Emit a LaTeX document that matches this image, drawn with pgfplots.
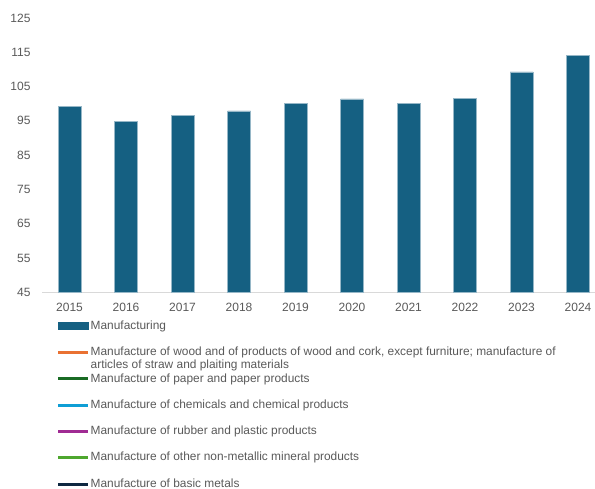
\documentclass[border=0pt]{standalone}
\usepackage{pgfplots}
\pgfplotsset{compat=1.18}
\usepackage{fontspec}
\setmainfont{Liberation Sans}

\definecolor{barblue}{HTML}{156082}
\definecolor{woodorange}{HTML}{E97132}
\definecolor{papergreen}{HTML}{196B24}
\definecolor{chemblue}{HTML}{0F9ED5}
\definecolor{rubberpurple}{HTML}{A02B93}
\definecolor{mineralgreen}{HTML}{4EA72E}
\definecolor{metalnavy}{HTML}{0E2841}
\definecolor{txtgray}{HTML}{595959}
\definecolor{axgray}{HTML}{D9D9D9}

\begin{document}
\begin{tikzpicture}
\begin{axis}[
    name=main,
    scale only axis,
    width=553bp, height=274.3bp,
    xmin=-0.487, xmax=9.3,
    ymin=45, ymax=125,
    ytick={45,55,...,125},
    xtick={0,...,9},
    xticklabels={2015,2016,2017,2018,2019,2020,2021,2022,2023,2024},
    axis x line=bottom, axis y line=left,
    axis line style={-},
    x axis line style={draw=axgray, line width=0.8bp},
    y axis line style={draw=none},
    major tick length=0pt,
    tick style={draw=none},
    /pgf/number format/assume math mode=true,
    tick label style={font=\fontsize{12bp}{14bp}\selectfont, text=txtgray},
    yticklabel style={xshift=-8bp},
    xticklabel style={yshift=-7.5bp},
    ybar=0pt, bar width=23bp,
    legend cell align=left,
    legend style={at={(0,0)}, anchor=north west, xshift=11.5bp, yshift=-25bp,
        draw=none, fill=none, text=txtgray,
        font=\fontsize{11.9bp}{14bp}\selectfont,
        row sep=12.8bp, column sep=0bp,
        nodes={inner sep=1bp, text height=9bp, text depth=2.5bp}},
    legend image code/.code={\draw[#1, line width=3bp] (0bp,0bp) -- (30bp,0bp);},
]
\addplot[fill=barblue, draw=barblue!45!white, line width=0.5bp,
    legend image code/.code={\fill[barblue] (0bp,-3.5bp) rectangle (30bp,3.5bp);}]
    coordinates {
        (0,99.2) (1,94.8) (2,96.5) (3,97.9) (4,100.2)
        (5,101.4) (6,100.0) (7,101.6) (8,109.3) (9,114.2)
    };
\addlegendentry{Manufacturing}
\addlegendimage{woodorange}
\addlegendentry{\smash{\begin{tabular}[t]{@{}l@{}}Manufacture of wood and of products of wood and cork, except furniture; manufacture of\\[-0.8bp]articles of straw and plaiting materials\end{tabular}}}
\addlegendimage{papergreen}
\addlegendentry{Manufacture of paper and paper products}
\addlegendimage{chemblue}
\addlegendentry{Manufacture of chemicals and chemical products}
\addlegendimage{rubberpurple}
\addlegendentry{Manufacture of rubber and plastic products}
\addlegendimage{mineralgreen}
\addlegendentry{Manufacture of other non-metallic mineral products}
\addlegendimage{metalnavy}
\addlegendentry{Manufacture of basic metals}
\end{axis}
\pgfresetboundingbox
\path ([xshift=-42bp,yshift=-196.7bp]main.south west) rectangle ([yshift=18bp]main.north east);
\end{tikzpicture}
\end{document}
